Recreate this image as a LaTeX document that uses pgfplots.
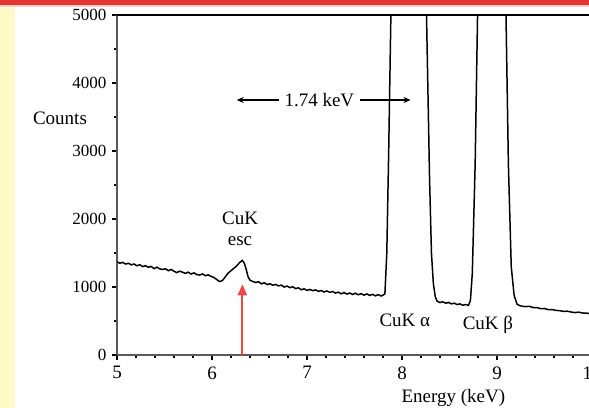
\documentclass[border=0pt]{standalone}
\usepackage{fontspec}
\setmainfont{Liberation Serif}
\usepackage{pgfplots}
\pgfplotsset{compat=1.18}
\usetikzlibrary{arrows.meta}
\definecolor{strip}{RGB}{255,249,200}
\definecolor{topred}{RGB}{226,52,48}
\definecolor{arrred}{RGB}{240,70,70}
\begin{document}
\begin{tikzpicture}
\useasboundingbox (0,0) rectangle (589bp,408bp);
\clip (0,0) rectangle (589bp,408bp);
\fill[white] (0,0) rectangle (589bp,408bp);
\fill[strip] (0,0) rectangle (15bp,408bp);
\fill[topred!25] (0,401bp) rectangle (589bp,403bp);
\fill[topred] (0,403bp) rectangle (589bp,408bp);
\begin{axis}[
  at={(117bp,53bp)}, anchor=south west,
  scale only axis, width=484.5bp, height=340bp,
  xmin=5, xmax=10.1, ymin=0, ymax=5000,
  axis lines*=left,
  axis line style={black!65, line width=2pt},
  clip mode=individual,
  xtick={5,6,7,8,9,10}, minor x tick num=4,
  ytick={0,1000,2000,3000,4000,5000}, minor y tick num=1,
  tick align=outside,
  major tick length=5bp, minor tick length=3bp,
  every tick/.style={black, line width=1.2pt},
  /pgf/number format/assume math mode=true,
  /pgf/number format/1000 sep={},
  yticklabel style={font=\fontsize{17bp}{19bp}\selectfont, xshift=-2bp},
  xticklabel style={font=\fontsize{19bp}{21bp}\selectfont, yshift=-3bp},
]
\addplot[black, line width=1.5pt] coordinates {
(5.00,1370)(5.03,1350)(5.06,1362)(5.09,1338)(5.12,1348)(5.15,1326)(5.18,1338)
(5.21,1312)(5.24,1328)(5.27,1300)(5.30,1314)(5.33,1290)(5.36,1302)(5.39,1270)
(5.42,1292)(5.45,1266)(5.48,1258)(5.51,1268)(5.54,1240)(5.57,1258)(5.60,1232)
(5.63,1212)(5.66,1232)(5.69,1218)(5.72,1200)(5.75,1218)(5.78,1190)(5.81,1208)
(5.84,1182)(5.87,1176)(5.90,1192)(5.93,1166)(5.96,1178)(5.99,1156)(6.02,1140)
(6.05,1110)(6.08,1080)(6.11,1095)(6.14,1150)(6.17,1205)(6.20,1240)(6.23,1275)
(6.26,1310)(6.29,1360)(6.32,1390)(6.34,1350)(6.36,1260)(6.38,1150)(6.40,1100)
(6.43,1080)(6.46,1066)(6.49,1078)(6.52,1046)(6.55,1062)(6.58,1036)(6.61,1048)
(6.64,1026)(6.67,1038)(6.70,1016)(6.73,1028)(6.76,1000)(6.79,1014)(6.82,990)
(6.85,1004)(6.88,976)(6.91,988)(6.94,960)(6.97,974)(7.00,950)(7.03,964)
(7.06,946)(7.09,958)(7.12,936)(7.15,948)(7.18,926)(7.21,942)(7.24,920)
(7.27,934)(7.30,910)(7.33,924)(7.36,900)(7.39,918)(7.42,896)(7.45,912)
(7.48,890)(7.51,908)(7.54,886)(7.57,902)(7.60,880)(7.63,898)(7.66,876)
(7.69,892)(7.72,870)(7.75,888)(7.78,868)(7.80,880)(7.82,900)(7.84,1500)
(7.86,3000)(7.89,5600)(8.04,40000)(8.25,5600)(8.29,2600)(8.31,1500)
(8.33,1050)(8.35,860)(8.37,790)(8.40,772)(8.43,782)(8.46,762)(8.49,772)
(8.52,752)(8.55,762)(8.58,742)(8.61,752)(8.64,732)(8.67,742)(8.70,730)
(8.72,800)(8.74,1200)(8.77,2800)(8.80,5400)(8.94,40000)(9.09,5400)
(9.12,2800)(9.15,1300)(9.18,880)(9.21,750)(9.24,725)(9.27,716)(9.30,712)
(9.34,716)(9.38,698)(9.42,698)(9.46,682)(9.50,684)(9.54,666)(9.58,668)
(9.62,656)(9.66,652)(9.70,642)(9.74,644)(9.78,632)(9.82,624)(9.86,630)
(9.90,618)(9.94,616)(9.98,608)(10.02,606)(10.06,600)(10.10,598)
};
\draw[black, line width=1.2pt] (rel axis cs:0,1) -- (rel axis cs:1,1);
\draw[arrred, line width=2.2pt, -{Triangle[length=11bp,width=9bp]}] (axis cs:6.32,0) -- (axis cs:6.32,1040);
\draw[black, line width=1.3pt, -{Stealth[length=7bp,width=6bp]}] (axis cs:6.70,3750) -- (axis cs:6.26,3750);
\draw[black, line width=1.3pt, -{Stealth[length=7bp,width=6bp]}] (axis cs:7.56,3750) -- (axis cs:8.09,3750);
\node[font=\fontsize{19bp}{21bp}\selectfont] at (axis cs:7.13,3750) {1.74 keV};
\node[font=\fontsize{19bp}{21bp}\selectfont] at (axis cs:6.295,2015) {CuK};
\node[font=\fontsize{19bp}{21bp}\selectfont] at (axis cs:6.295,1676) {esc};
\node[font=\fontsize{19bp}{21bp}\selectfont] at (axis cs:8.03,515) {CuK α};
\node[font=\fontsize{19bp}{21bp}\selectfont] at (axis cs:8.905,441) {CuK β};
\node[font=\fontsize{19bp}{21bp}\selectfont] at (axis cs:5,3485) [xshift=-57bp] {Counts};
\node[font=\fontsize{19bp}{21bp}\selectfont] at (axis cs:8.54,0) [yshift=-43bp] {Energy (keV)};
\end{axis}
\end{tikzpicture}
\end{document}
